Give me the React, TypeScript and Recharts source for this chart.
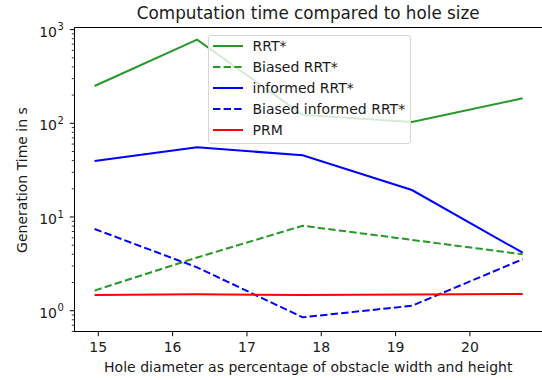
import React from 'react';
import { LineChart, Line, XAxis, YAxis, Legend, ReferenceLine } from 'recharts';

// hole diameter (% of obstacle width/height)
const holeSizes = [14.95, 16.33, 17.75, 19.22, 20.71];

// generation time in s
const rrtStar = [250, 780, 123, 103, 185];
const biasedRrtStar = [1.64, 3.7, 8.07, 5.7, 4.0];
const informedRrtStar = [39.6, 55.5, 45.5, 19.4, 4.16];
const biasedInformedRrtStar = [7.45, 2.9, 0.85, 1.13, 3.54];
const prm = [1.47, 1.5, 1.47, 1.49, 1.51];

const xTicks = [15, 16, 17, 18, 19, 20];
const yTicks = [
  0.6, 0.7, 0.8, 0.9,
  1, 2, 3, 4, 5, 6, 7, 8, 9,
  10, 20, 30, 40, 50, 60, 70, 80, 90,
  100, 200, 300, 400, 500, 600, 700, 800, 900,
  1000,
];

const title = 'Computation time compared to hole size';
const xLabel = 'Hole diameter as percentage of obstacle width and height';
const yLabel = 'Generation Time in s';

const GREEN = '#26992a';
const BLUE = '#0000ff';
const RED = '#ff0000';

const series = [
  { key: 'rrt', name: 'RRT*', values: rrtStar, color: GREEN, dashed: false },
  { key: 'brrt', name: 'Biased RRT*', values: biasedRrtStar, color: GREEN, dashed: true },
  { key: 'irrt', name: 'informed RRT*', values: informedRrtStar, color: BLUE, dashed: false },
  { key: 'birrt', name: 'Biased informed RRT*', values: biasedInformedRrtStar, color: BLUE, dashed: true },
  { key: 'prm', name: 'PRM', values: prm, color: RED, dashed: false },
];

const chartData = holeSizes.map((x, i) => {
  const row: Record<string, number> = { x };
  series.forEach(s => { row[s.key] = s.values[i]; });
  return row;
});

const FONT = '"DejaVu Sans", sans-serif';
const FS = 14;
const W = 542;
const H = 380;
const LEFT = 74.5;
const TOP = 27.5;
const BOTTOM = 48.5;
const Y_DOMAIN: [number, number] = [0.6, 1053];
const DASH = '7.4 3.2';
const TEXT = '#1a1a1a';

const XTick = (props: any) => {
  const { x, y, payload } = props;
  return (
    <g>
      <line x1={x} x2={x} y1={y} y2={y + 4.7} stroke="#000" strokeWidth={1} />
      <text x={x} y={y + 20.5} textAnchor="middle" fontSize={FS} fontFamily={FONT} fill={TEXT}>
        {payload.value}
      </text>
    </g>
  );
};

const YTick = (props: any) => {
  const { x, y, payload } = props;
  const lg = Math.log10(payload.value);
  const exp = Math.round(lg);
  const major = Math.abs(lg - exp) < 1e-6;
  return (
    <g>
      <line x1={x} x2={x - (major ? 4.7 : 2.7)} y1={y} y2={y} stroke="#000" strokeWidth={major ? 1 : 0.8} />
      {major && (
        <text x={x - 17.5} y={y + 7} textAnchor="end" fontSize={FS} fontFamily={FONT} fill={TEXT}>
          10
          <tspan x={x - 17} textAnchor="start" dy={-6.5} fontSize={10}>{exp}</tspan>
        </text>
      )}
    </g>
  );
};

const LegendBox = () => (
  <div
    style={{
      position: 'relative',
      width: 203,
      height: 109,
      boxSizing: 'border-box',
      border: '1px solid #d6d6d6',
      borderRadius: 3,
      background: 'rgba(255,255,255,0.8)',
      fontFamily: FONT,
      fontSize: FS,
      color: TEXT,
    }}
  >
    {series.map((s, i) => (
      <div key={s.key} style={{ position: 'absolute', left: 0, top: 1 + i * 21.1, height: 18, width: 200 }}>
        <svg width={40} height={18} style={{ position: 'absolute', left: 0, top: 0 }}>
          <line x1={4} x2={34} y1={9} y2={9} stroke={s.color} strokeWidth={2} strokeDasharray={s.dashed ? DASH : undefined} />
        </svg>
        <span style={{ position: 'absolute', left: 44, top: 0, lineHeight: '18px', whiteSpace: 'nowrap' }}>{s.name}</span>
      </div>
    ))}
  </div>
);

export default function App() {
  return (
    <div style={{ position: 'absolute', left: 0, top: 0, width: W, height: H, background: '#fff', fontFamily: FONT }}>
      <div
        style={{
          position: 'absolute', left: LEFT, width: W - LEFT, top: 4, lineHeight: '18px',
          fontSize: 16.8, textAlign: 'center', color: TEXT, whiteSpace: 'nowrap',
        }}
      >
        {title}
      </div>
      <LineChart width={W} height={H} data={chartData} margin={{ top: TOP, right: 0, bottom: 0, left: 0 }}>
        <XAxis
          dataKey="x"
          type="number"
          domain={[14.68, 20.97]}
          allowDataOverflow
          ticks={xTicks}
          interval={0}
          height={BOTTOM}
          tickSize={0}
          tickMargin={0}
          tickLine={false}
          tick={<XTick />}
          axisLine={{ stroke: '#000', strokeWidth: 1 }}
        />
        <YAxis
          type="number"
          scale="log"
          domain={Y_DOMAIN}
          allowDataOverflow
          ticks={yTicks}
          interval={0}
          width={LEFT}
          tickSize={0}
          tickMargin={0}
          tickLine={false}
          tick={<YTick />}
          axisLine={{ stroke: '#000', strokeWidth: 1 }}
        />
        <ReferenceLine y={Y_DOMAIN[1]} stroke="#000" strokeWidth={1} ifOverflow="visible" />
        {series.map(s => (
          <Line
            key={s.key}
            dataKey={s.key}
            name={s.name}
            type="linear"
            stroke={s.color}
            strokeWidth={2}
            strokeDasharray={s.dashed ? DASH : undefined}
            dot={false}
            activeDot={false}
            isAnimationActive={false}
          />
        ))}
        <Legend
          layout="vertical"
          align="center"
          verticalAlign="middle"
          content={() => <LegendBox />}
          wrapperStyle={{ left: 207.5, top: 35, width: 203, height: 109 }}
        />
      </LineChart>
      <div
        style={{
          position: 'absolute', left: LEFT, width: W - LEFT, top: 359, lineHeight: '16px',
          fontSize: FS, textAlign: 'center', color: TEXT, whiteSpace: 'nowrap',
        }}
      >
        {xLabel}
      </div>
      <div
        style={{
          position: 'absolute', left: 22 - 150, top: 179.5 - 8, width: 300, lineHeight: '16px',
          fontSize: FS, textAlign: 'center', color: TEXT, transform: 'rotate(-90deg)', whiteSpace: 'nowrap',
        }}
      >
        {yLabel}
      </div>
    </div>
  );
}
